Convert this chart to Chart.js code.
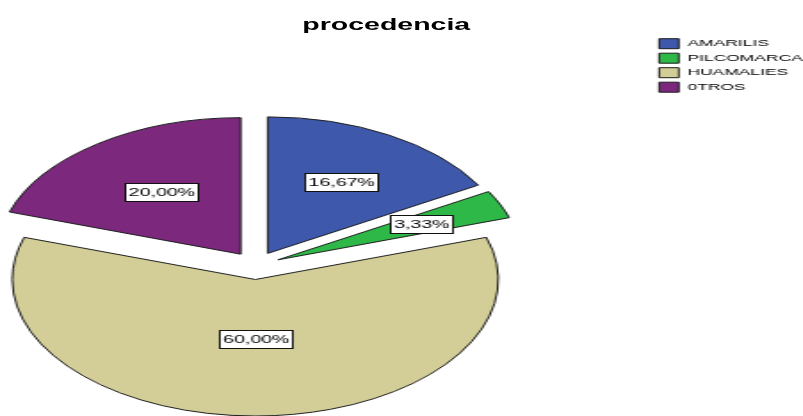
<!DOCTYPE html>
<html>
<head>
<meta charset="utf-8">
<script src="https://cdn.jsdelivr.net/npm/chart.js@4/dist/chart.umd.min.js"></script>
<style>
  html, body { margin: 0; padding: 0; background: #fff; }
  #marco { position: relative; width: 803px; height: 416px; overflow: hidden; background: #fff; }
  /* the SPSS output is stretched sideways, so the whole stage is too */
  #escena { position: absolute; left: 0; top: 0; width: 451px; height: 500px; transform: scaleX(1.78); transform-origin: 0 0; }
  #titulo { position: absolute; left: 117px; top: 16.5px; width: 200px; text-align: center;
            font: bold 16px "Liberation Sans", Arial, sans-serif; line-height: 16px; color: #000; }
  #torta { position: absolute; left: -79px; top: 0; }
</style>
</head>
<body>
<div id="marco">
  <div id="escena">
    <div id="titulo">procedencia</div>
    <canvas id="torta" width="540" height="500"></canvas>
  </div>
</div>
<script>
const categorias = ['AMARILIS', 'PILCOMARCA', 'HUAMALIES', '0TROS'];
const porcentajes = [16.67, 3.33, 60.00, 20.00];
const colores = ['#3e58ac', '#2eb848', '#d3ce97', '#7c287d'];

Chart.defaults.font.family = '"Liberation Sans", Arial, sans-serif';

// separa cada porcion del centro, como en SPSS
const explotar = {
    id: 'explotar',
    afterDatasetUpdate(chart, args, opts) {
        args.meta.data.forEach(arc => {
            const medio = (arc.startAngle + arc.endAngle) / 2;
            arc.x += Math.cos(medio) * opts.distancia;
            arc.y += Math.sin(medio) * opts.distancia;
        });
    }
};

// etiquetas con caja blanca
const etiquetas = {
    id: 'etiquetas',
    afterDatasetsDraw(chart, args, opts) {
        const ctx = chart.ctx;
        const meta = chart.getDatasetMeta(0);
        ctx.save();
        ctx.font = '11px "Liberation Sans", Arial, sans-serif';
        ctx.textAlign = 'center';
        ctx.textBaseline = 'middle';
        meta.data.forEach((arc, i) => {
            const medio = (arc.startAngle + arc.endAngle) / 2;
            const r = arc.outerRadius * opts.posicion[i];
            const x = arc.x + Math.cos(medio) * r;
            const y = arc.y + Math.sin(medio) * r;
            const texto = porcentajes[i].toFixed(2).replace('.', ',') + '%';
            const w = Math.round(ctx.measureText(texto).width + 4);
            const h = 18;
            const x0 = Math.round(x - w / 2) + 0.5;
            const y0 = Math.round(y - h / 2) + 0.5;
            ctx.fillStyle = '#fff';
            ctx.fillRect(x0, y0, w, h);
            ctx.strokeStyle = '#111';
            ctx.lineWidth = 1;
            ctx.strokeRect(x0, y0, w, h);
            ctx.fillStyle = '#000';
            ctx.fillText(texto, x0 + w / 2, y0 + h / 2 + 0.5);
        });
        ctx.restore();
    }
};

const ctx = document.getElementById('torta').getContext('2d');
const grafico = new Chart(ctx, {
    type: 'pie',
    data: {
        labels: categorias,
        datasets: [{
            data: porcentajes,
            backgroundColor: colores,
            borderColor: '#1e1e1e',
            borderWidth: 1
        }]
    },
    options: {
        responsive: false,
        animation: false,
        events: [],
        radius: 136.5,
        layout: {
            padding: { left: 0, right: 0, top: 34.2, bottom: 3.2 }
        },
        plugins: {
            tooltip: { enabled: false },
            title: { display: false },
            legend: {
                position: 'right',
                align: 'start',
                labels: {
                    boxWidth: 11,
                    boxHeight: 10,
                    padding: 4.5,
                    color: '#000',
                    font: { size: 9.8 }
                }
            },
            explotar: { distancia: 14 },
            etiquetas: { posicion: [0.6, 0.642, 0.435, 0.56] }
        }
    },
    plugins: [explotar, etiquetas]
});
</script>
</body>
</html>
